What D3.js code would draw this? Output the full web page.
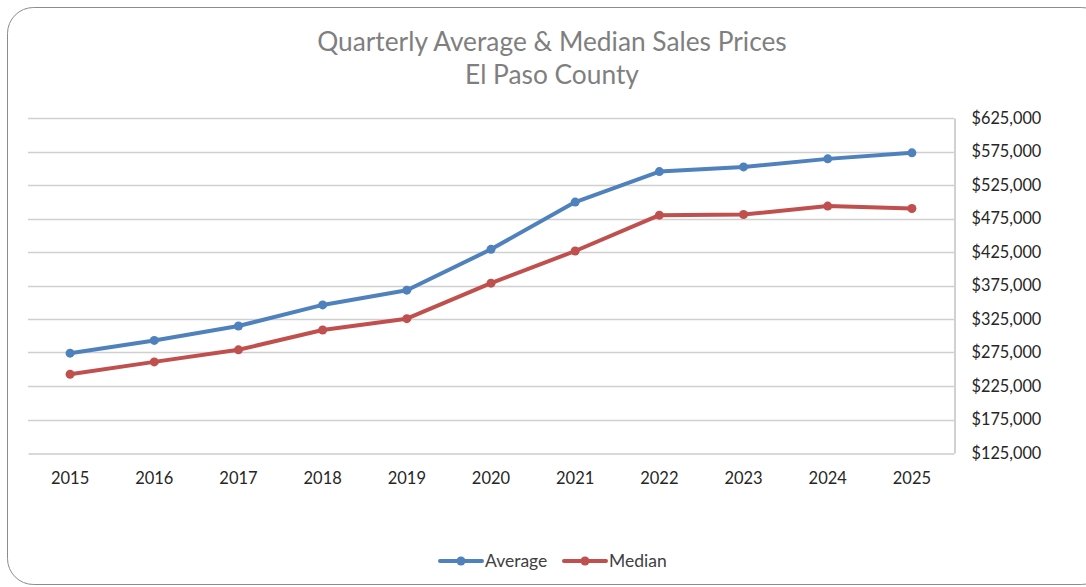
<!DOCTYPE html>
<html>
<head>
<meta charset="utf-8">
<script src="https://cdn.jsdelivr.net/npm/d3@7"></script>
<style>
  body { margin: 0; background: #fff; }
  svg { display: block; font-family: Lato, "Open Sans", sans-serif; }
</style>
</head>
<body>
<div id="chart"></div>
<script>
const years = ["2015", "2016", "2017", "2018", "2019", "2020", "2021", "2022", "2023", "2024", "2025"];
const averagePrices = [274000, 293000, 314500, 346000, 368000, 429000, 499500, 545000, 552000, 564000, 573000];
const medianPrices = [242500, 261000, 279000, 308500, 325500, 378500, 426500, 480000, 481000, 493500, 490000];
const yTicks = [125000, 175000, 225000, 275000, 325000, 375000, 425000, 475000, 525000, 575000, 625000];
const titleLines = ["Quarterly Average & Median Sales Prices", "El Paso County"];

const series = [
  { name: "Average", values: averagePrices, color: "#4f81bd" },
  { name: "Median", values: medianPrices, color: "#c0504d" }
];

const W = 1086, H = 587;
const plot = { left: 28, right: 954, top: 118, bottom: 453 };

const svg = d3.select("#chart").append("svg")
  .attr("width", W)
  .attr("height", H);

// outer rounded frame
svg.append("rect")
  .attr("x", 7.5).attr("y", 7.5)
  .attr("width", 1100).attr("height", 577)
  .attr("rx", 26).attr("ry", 26)
  .attr("fill", "#fff")
  .attr("stroke", "#8c8c8c")
  .attr("stroke-width", 1);

// title
svg.append("g")
  .selectAll("text")
  .data(titleLines)
  .join("text")
  .attr("x", 552)
  .attr("y", (d, i) => 51 + i * 33)
  .attr("text-anchor", "middle")
  .attr("fill", "#7f7f7f")
  .style("font-size", "26.3px")
  .text(d => d);

const x = d3.scaleBand()
  .domain(years)
  .range([plot.left, plot.right]);

const y = d3.scaleLinear()
  .domain([125000, 625000])
  .range([plot.bottom, plot.top]);

// gridlines
svg.append("g")
  .selectAll("line")
  .data(yTicks.slice(1))
  .join("line")
  .attr("x1", plot.left).attr("x2", plot.right)
  .attr("y1", d => Math.round(y(d)) + 0.5)
  .attr("y2", d => Math.round(y(d)) + 0.5)
  .attr("stroke", "#d0d0d0")
  .attr("stroke-width", 1.3);

// x axis
const xAxis = svg.append("g")
  .attr("transform", `translate(0,${plot.bottom + 0.5})`)
  .call(d3.axisBottom(x).tickSize(0).tickPadding(18.5));
xAxis.select(".domain").attr("stroke", "#b3b3b3").attr("stroke-width", 1.2);
xAxis.selectAll("text")
  .attr("fill", "#262626")
  .style("font-size", "16.5px")
  .style("font-family", "Lato, sans-serif");

// y axis (right)
const yAxis = svg.append("g")
  .attr("transform", `translate(${plot.right + 0.5},0)`)
  .call(d3.axisRight(y).tickValues(yTicks).tickSize(0).tickPadding(17)
    .tickFormat(d => "$" + d3.format(",")(d)));
yAxis.select(".domain").attr("stroke", "#b3b3b3").attr("stroke-width", 1.2);
yAxis.selectAll("text")
  .attr("fill", "#262626")
  .style("font-size", "16.3px")
  .style("font-family", "Lato, sans-serif");

const cx = d => x(d) + x.bandwidth() / 2;

const line = d3.line()
  .x((d, i) => cx(years[i]))
  .y(d => y(d));

for (const s of series) {
  svg.append("path")
    .datum(s.values)
    .attr("fill", "none")
    .attr("stroke", s.color)
    .attr("stroke-width", 4)
    .attr("stroke-linejoin", "round")
    .attr("d", line);

  svg.append("g")
    .selectAll("circle")
    .data(s.values)
    .join("circle")
    .attr("cx", (d, i) => cx(years[i]))
    .attr("cy", d => y(d))
    .attr("r", 4.5)
    .attr("fill", s.color);
}

// legend
const legendX = [440, 564];
const legend = svg.append("g");
series.forEach((s, i) => {
  const g = legend.append("g").attr("transform", `translate(${legendX[i]},561)`);
  g.append("line")
    .attr("x1", 0).attr("x2", 42)
    .attr("stroke", s.color)
    .attr("stroke-width", 4)
    .attr("stroke-linecap", "round");
  g.append("circle")
    .attr("cx", 21).attr("r", 4.5)
    .attr("fill", s.color);
  g.append("text")
    .attr("x", 45).attr("dy", "0.35em")
    .attr("fill", "#404040")
    .style("font-size", "17.5px")
    .text(s.name);
});
</script>
</body>
</html>
